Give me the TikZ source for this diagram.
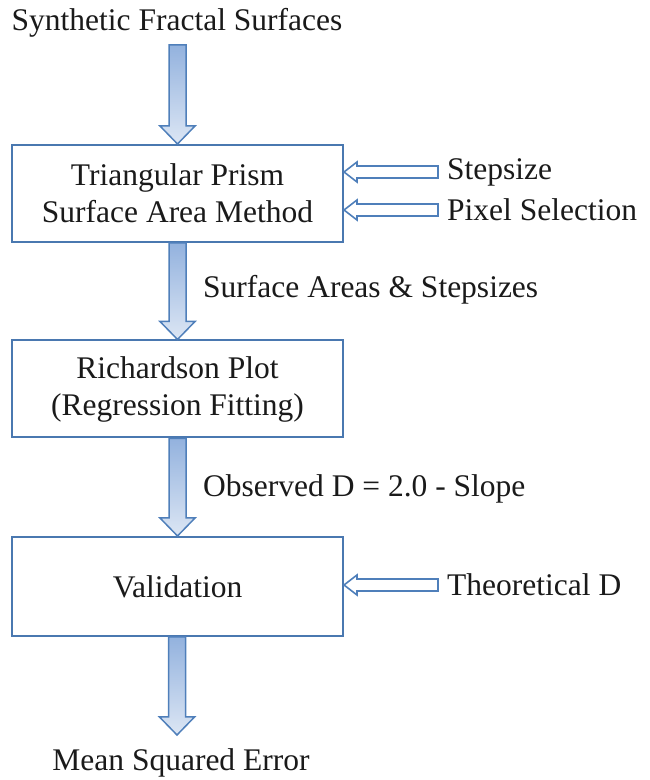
\documentclass[tikz,border=0pt]{standalone}
\usepackage{fontspec}
\setmainfont{Liberation Serif}
\usepackage{tikz}
\usepackage{xcolor}
\usetikzlibrary{calc,positioning}
\definecolor{boxblue}{HTML}{4A78B0}
\definecolor{arrline}{HTML}{4F7FBA}
\definecolor{arrtop}{HTML}{93B2DE}
\definecolor{arrbot}{HTML}{DCE6F4}
\definecolor{ink}{HTML}{1A1A1A}
\tikzset{
  stagebox/.style={draw=boxblue,fill=white,line width=2pt,
                   minimum width=331pt,minimum height=97pt,
                   align=center,font=\fontsize{31.5}{37}\selectfont,text=ink},
  plainlabel/.style={font=\fontsize{31.5}{36}\selectfont,text=ink,inner sep=0pt},
  vblockstyle/.style={draw=arrline,line width=1.5pt,top color=arrtop,bottom color=arrbot,line join=miter},
  hblockstyle/.style={draw=arrline,line width=1.6pt,fill=white,line join=miter}
}
% block arrow going down, from node #1 to node #2
\newcommand{\vblock}[2]{%
  \path[vblockstyle] let \p1=(#1), \p2=(#2) in
    (\x2-8.5pt,\y1) -- (\x2+8.5pt,\y1) -- (\x2+8.5pt,\y2+18pt) -- (\x2+17.5pt,\y2+18pt)
    -- (\x2,\y2) -- (\x2-17.5pt,\y2+18pt) -- (\x2-8.5pt,\y2+18pt) -- cycle;}
% block arrow going left, from label #1 to box #2
\newcommand{\hblock}[2]{%
  \path[hblockstyle] let \p1=(#1.west), \p2=(#2.east) in
    (\x1-9pt,\y1+6pt) -- (\x2+13pt,\y1+6pt) -- (\x2+13pt,\y1+10pt) -- (\x2,\y1)
    -- (\x2+13pt,\y1-10pt) -- (\x2+13pt,\y1-6pt) -- (\x1-9pt,\y1-6pt) -- cycle;}

\begin{document}
\begin{tikzpicture}[x=1pt,y=1pt]
  \useasboundingbox (0,0) rectangle (649,780);
  \node[plainlabel] (synth) at (177,757) {Synthetic Fractal Surfaces};
  \node[stagebox] (tpsam) at (177.5,586.5) {Triangular Prism\\Surface Area Method};
  \node[stagebox] (rich) at (177.5,391) {Richardson Plot\\(Regression Fitting)};
  \node[stagebox,minimum height=99pt] (valid) at (177.5,193.5) {Validation};
  \node[plainlabel] (mse) at (181,17) {Mean Squared Error};
  \coordinate (synthbot) at (177,735);
  \coordinate (msetop) at (177,45);

  \node[plainlabel,anchor=west] (step) at (447,608) {Stepsize};
  \node[plainlabel,anchor=west] (pixel) at (447,570) {Pixel Selection};
  \node[plainlabel,anchor=west] (theo) at (447,195) {Theoretical D};
  \node[plainlabel,anchor=west] (areas) at (203,490) {Surface Areas \& Stepsizes};
  \node[plainlabel,anchor=west] (slope) at (203,291) {Observed D = 2.0 - Slope};

  \vblock{synthbot}{tpsam.north}
  \vblock{tpsam.south}{rich.north}
  \vblock{rich.south}{valid.north}
  \vblock{valid.south}{msetop}

  \foreach \lab/\stage in {step/tpsam,pixel/tpsam,theo/valid} {
    \hblock{\lab}{\stage}
  }
\end{tikzpicture}
\end{document}
